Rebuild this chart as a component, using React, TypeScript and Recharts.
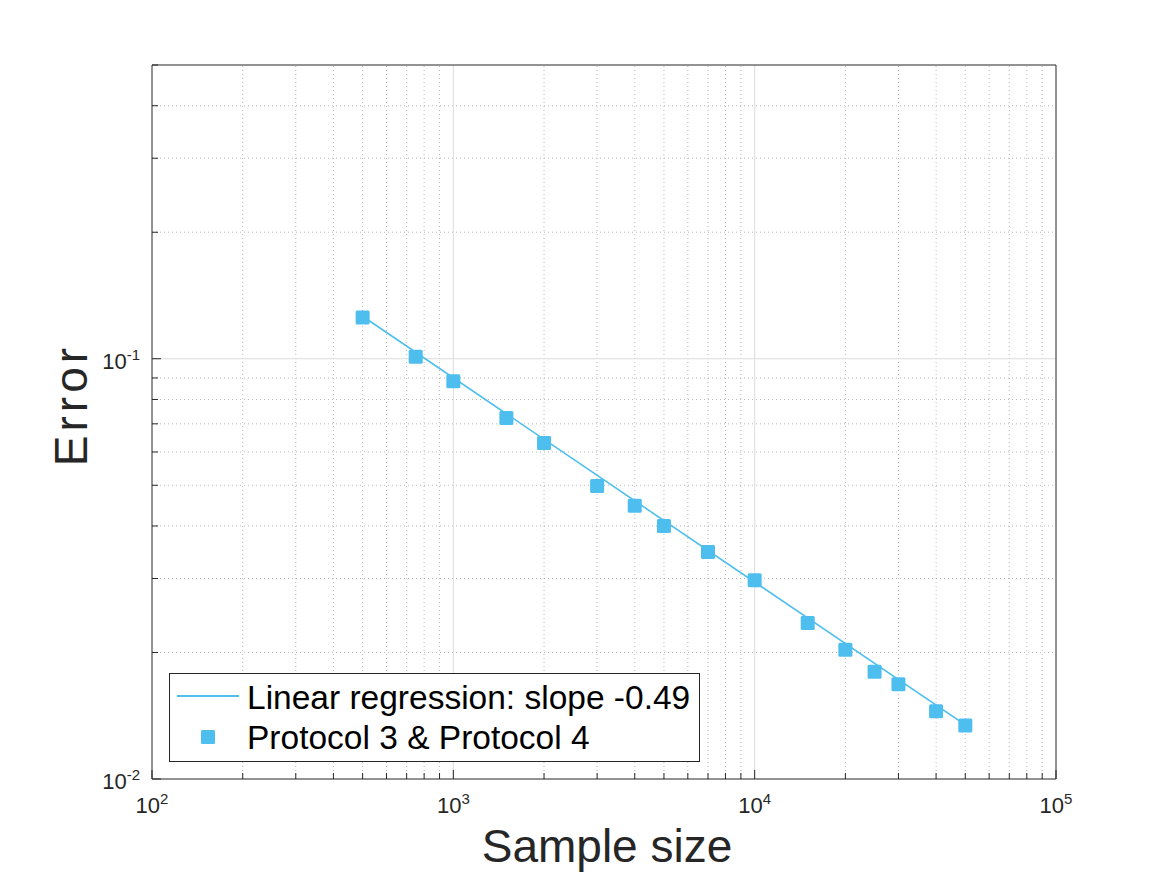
import { ScatterChart, Scatter, XAxis, YAxis, ReferenceLine, Legend } from "recharts";

const sampleSizes = [500, 750, 1000, 1500, 2000, 3000, 4000, 5000, 7000, 10000, 15000, 20000, 25000, 30000, 40000, 50000];
const errors = [0.1254, 0.1011, 0.0884, 0.0723, 0.063, 0.0498, 0.0447, 0.04, 0.0347, 0.0297, 0.0235, 0.0203, 0.018, 0.0168, 0.0145, 0.0134];

// fitted line end points
const regressionX = [500, 50000];
const regressionY = [0.1262, 0.01345];

const xTicks = [
  100, 200, 300, 400, 500, 600, 700, 800, 900,
  1000, 2000, 3000, 4000, 5000, 6000, 7000, 8000, 9000,
  10000, 20000, 30000, 40000, 50000, 60000, 70000, 80000, 90000,
  100000,
];
const yTicks = [0.01, 0.02, 0.03, 0.04, 0.05, 0.06, 0.07, 0.08, 0.09, 0.1, 0.2, 0.3, 0.4, 0.5];

const BLUE = "#4DBEEE";
const AXIS = "#262626";
const FONT = '"Liberation Sans", Arial, Helvetica, sans-serif';

const points = sampleSizes.map((x, i) => ({ x, y: errors[i] }));
const regression = regressionX.map((x, i) => ({ x, y: regressionY[i] }));

const isDecade = (v: number) => {
  const l = Math.log10(v);
  return Math.abs(l - Math.round(l)) < 1e-6;
};
const exponent = (v: number) => String(Math.round(Math.log10(v)));

const X_MIN = xTicks[0];
const X_MAX = xTicks[xTicks.length - 1];
const Y_MIN = yTicks[0];
const Y_MAX = yTicks[yTicks.length - 1];

const minorX = xTicks.filter((v) => !isDecade(v));
const majorX = xTicks.filter((v) => isDecade(v) && v > X_MIN && v < X_MAX);
const minorY = yTicks.filter((v) => !isDecade(v) && v < Y_MAX);
const majorY = yTicks.filter((v) => isDecade(v) && v > Y_MIN && v < Y_MAX);

const tickLen = (v: number) => (isDecade(v) ? 9 : 6);

const BottomTick = (props: any) => {
  const { x, y, payload } = props;
  const v = payload.value;
  return (
    <g>
      <line x1={x} x2={x} y1={y} y2={y - tickLen(v)} stroke={AXIS} strokeWidth={1} />
      {isDecade(v) && (
        <text x={x} y={y + 34} textAnchor="middle" fontFamily={FONT} fontSize={22} fill={AXIS}>
          10
          <tspan dy={-9} fontSize={15}>
            {exponent(v)}
          </tspan>
        </text>
      )}
    </g>
  );
};

const TopTick = (props: any) => {
  const { x, y, payload } = props;
  return <line x1={x} x2={x} y1={y} y2={y + tickLen(payload.value)} stroke={AXIS} strokeWidth={1} />;
};

const LeftTick = (props: any) => {
  const { x, y, payload } = props;
  const v = payload.value;
  return (
    <g>
      <line x1={x} x2={x + tickLen(v)} y1={y} y2={y} stroke={AXIS} strokeWidth={1} />
      {isDecade(v) && (
        <text x={x - 12} y={y + 10} textAnchor="end" fontFamily={FONT} fontSize={22} fill={AXIS}>
          10
          <tspan dy={-9} fontSize={15}>
            {exponent(v)}
          </tspan>
        </text>
      )}
    </g>
  );
};

const RightTick = (props: any) => {
  const { x, y, payload } = props;
  return <line x1={x} x2={x - tickLen(payload.value)} y1={y} y2={y} stroke={AXIS} strokeWidth={1} />;
};

const XTitle = () => (
  <text x={607} y={862} textAnchor="middle" fontFamily={FONT} fontSize={46} fill={AXIS}>
    Sample size
  </text>
);

const YTitle = () => (
  <text
    x={87}
    y={405}
    transform="rotate(-90, 87, 405)"
    textAnchor="middle"
    fontFamily={FONT}
    fontSize={46}
    letterSpacing={4}
    fill={AXIS}
  >
    Error
  </text>
);

const SquareMarker = (props: any) => {
  const { cx, cy } = props;
  if (cx == null || cy == null) return <g />;
  return <rect x={cx - 7} y={cy - 7} width={14} height={14} rx={1.5} fill={BLUE} />;
};

const NoMarker = () => <g />;

const LegendBox = () => (
  <svg width={531} height={89} style={{ display: "block" }}>
    <rect x={0.5} y={0.5} width={530} height={88} fill="#fff" stroke={AXIS} strokeWidth={1} />
    <line x1={8} x2={70} y1={23} y2={23} stroke={BLUE} strokeWidth={2} />
    <text x={78} y={36} fontFamily={FONT} fontSize={33.5} fill="#000">
      Linear regression: slope -0.49
    </text>
    <rect x={32} y={57} width={14} height={14} rx={1.5} fill={BLUE} />
    <text x={78} y={76} fontFamily={FONT} fontSize={33.5} fill="#000">
      Protocol 3 &amp; Protocol 4
    </text>
  </svg>
);

export default function App() {
  return (
    <div style={{ position: "absolute", left: 0, top: 0, width: 1167, height: 875, background: "#fff" }}>
      <ScatterChart width={1167} height={875} margin={{ top: 64, right: 110, bottom: 36, left: 92 }}>
        <XAxis
          xAxisId="b"
          type="number"
          dataKey="x"
          scale="log"
          domain={[X_MIN, X_MAX]}
          ticks={xTicks}
          interval={0}
          height={60}
          tickSize={0}
          tickMargin={0}
          tickLine={false}
          tick={<BottomTick />}
          axisLine={{ stroke: AXIS, strokeWidth: 1 }}
          label={<XTitle />}
        />
        <XAxis
          xAxisId="t"
          orientation="top"
          type="number"
          dataKey="x"
          scale="log"
          domain={[X_MIN, X_MAX]}
          ticks={xTicks}
          interval={0}
          height={1}
          tickSize={0}
          tickMargin={0}
          tickLine={false}
          tick={<TopTick />}
          axisLine={{ stroke: AXIS, strokeWidth: 1 }}
        />
        <YAxis
          yAxisId="l"
          type="number"
          dataKey="y"
          scale="log"
          domain={[Y_MIN, Y_MAX]}
          ticks={yTicks}
          interval={0}
          width={60}
          tickSize={0}
          tickMargin={0}
          tickLine={false}
          tick={<LeftTick />}
          axisLine={{ stroke: AXIS, strokeWidth: 1 }}
          label={<YTitle />}
        />
        <YAxis
          yAxisId="r"
          orientation="right"
          type="number"
          dataKey="y"
          scale="log"
          domain={[Y_MIN, Y_MAX]}
          ticks={yTicks}
          interval={0}
          width={1}
          tickSize={0}
          tickMargin={0}
          tickLine={false}
          tick={<RightTick />}
          axisLine={{ stroke: AXIS, strokeWidth: 1 }}
        />

        {minorX.map((v) => (
          <ReferenceLine key={`mx${v}`} x={v} xAxisId="b" yAxisId="l" stroke="#b8b8b8" strokeDasharray="1 3" strokeWidth={1} />
        ))}
        {minorY.map((v) => (
          <ReferenceLine key={`my${v}`} y={v} xAxisId="b" yAxisId="l" stroke="#b8b8b8" strokeDasharray="1 3" strokeWidth={1} />
        ))}
        {majorX.map((v) => (
          <ReferenceLine key={`Mx${v}`} x={v} xAxisId="b" yAxisId="l" stroke="#dcdcdc" strokeWidth={1} />
        ))}
        {majorY.map((v) => (
          <ReferenceLine key={`My${v}`} y={v} xAxisId="b" yAxisId="l" stroke="#dcdcdc" strokeWidth={1} />
        ))}

        <Scatter
          name="Linear regression: slope -0.49"
          data={regression}
          xAxisId="b"
          yAxisId="l"
          line={{ stroke: BLUE, strokeWidth: 1.6 }}
          shape={<NoMarker />}
          isAnimationActive={false}
        />
        <Scatter
          name="Protocol 3 & Protocol 4"
          data={points}
          xAxisId="b"
          yAxisId="l"
          fill={BLUE}
          shape={<SquareMarker />}
          isAnimationActive={false}
        />

        <Legend
          layout="vertical"
          align="center"
          verticalAlign="middle"
          content={<LegendBox />}
          wrapperStyle={{ left: 169, top: 673, width: 531, height: 89 }}
        />
      </ScatterChart>
    </div>
  );
}
